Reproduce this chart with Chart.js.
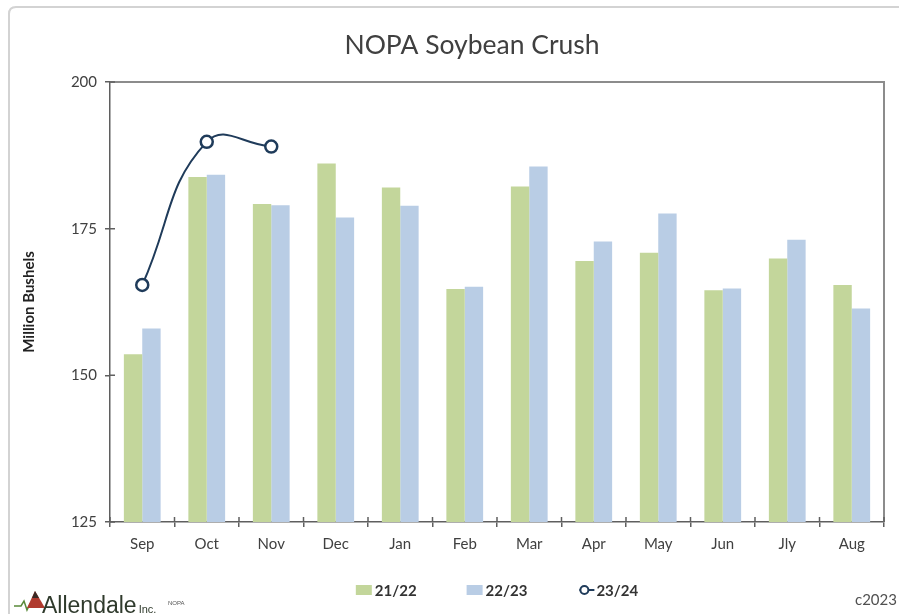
<!DOCTYPE html>
<html>
<head>
<meta charset="utf-8">
<script src="https://cdn.jsdelivr.net/npm/chart.js@4"></script>
<style>
  body { margin: 0; background: #fff; }
  #wrap { width: 899px; height: 614px; position: relative; }
</style>
</head>
<body>
<div id="wrap"><canvas id="chart1"></canvas></div>
<script>
const months = ['Sep', 'Oct', 'Nov', 'Dec', 'Jan', 'Feb', 'Mar', 'Apr', 'May', 'Jun', 'Jly', 'Aug'];
const crush2122 = [153.6, 183.8, 179.2, 186.1, 182.0, 164.7, 182.2, 169.5, 170.9, 164.5, 169.9, 165.4];
const crush2223 = [158.0, 184.2, 179.0, 176.9, 178.9, 165.1, 185.6, 172.8, 177.6, 164.8, 173.1, 161.4];
const crush2324 = [165.4, 189.8, 189.0];
const yTicks = [125, 150, 175, 200];

const FONT = 'Lato, "DejaVu Sans", sans-serif';
const greenCol = '#c3d69b';
const blueCol = '#b9cde5';
const lineCol = '#1f3b5a';
const axisCol = '#5f5f5f';

// frame, cross ticks, title, legend and footer
const decorations = {
  id: 'decorations',
  beforeDraw(chart) {
    const ctx = chart.ctx;
    ctx.save();
    ctx.strokeStyle = '#d3d3d3';
    ctx.lineWidth = 2;
    ctx.beginPath();
    ctx.moveTo(9, 640);
    ctx.lineTo(9, 14);
    ctx.quadraticCurveTo(9, 7, 16, 7);
    ctx.lineTo(905, 7);
    ctx.stroke();
    ctx.restore();
  },
  afterDraw(chart) {
    const ctx = chart.ctx;
    const a = chart.chartArea;
    const x = chart.scales.x;
    const y = chart.scales.y;
    ctx.save();

    // top and right edge of the plot box
    ctx.strokeStyle = '#8c8c8c';
    ctx.lineWidth = 2;
    ctx.beginPath();
    ctx.moveTo(a.left, a.top);
    ctx.lineTo(a.right, a.top);
    ctx.lineTo(a.right, a.bottom);
    ctx.stroke();

    // inner half of the cross tick marks
    ctx.strokeStyle = axisCol;
    ctx.lineWidth = 1.5;
    ctx.beginPath();
    yTicks.forEach(v => {
      const py = y.getPixelForValue(v);
      ctx.moveTo(a.left, py);
      ctx.lineTo(a.left + 5, py);
    });
    for (let i = 0; i <= months.length; i++) {
      const px = x.getPixelForValue(i - 0.5);
      ctx.moveTo(px, a.bottom);
      ctx.lineTo(px, a.bottom - 5);
    }
    ctx.stroke();

    // title
    ctx.fillStyle = '#404040';
    ctx.font = '26.5px ' + FONT;
    ctx.textAlign = 'center';
    ctx.textBaseline = 'middle';
    ctx.fillText('NOPA Soybean Crush', (a.left + a.right) / 2 - 25, 45);

    // legend
    const items = chart.data.datasets.map(ds => ({ text: ds.label, ds }));
    ctx.font = 'bold 15px ' + FONT;
    const iconW = 17, gap = 2, spacing = 50;
    let total = 0;
    items.forEach((it, i) => {
      it.w = ctx.measureText(it.text).width;
      total += iconW + gap + it.w + (i < items.length - 1 ? spacing : 0);
    });
    let cx = (a.left + a.right) / 2 - total / 2;
    const ly = 590;
    ctx.textAlign = 'left';
    items.forEach(it => {
      if (it.ds.type === 'line') {
        ctx.strokeStyle = lineCol;
        ctx.lineWidth = 2;
        ctx.beginPath();
        ctx.moveTo(cx + 2, ly);
        ctx.lineTo(cx + iconW, ly);
        ctx.stroke();
        ctx.beginPath();
        ctx.arc(cx + 7, ly, 4, 0, Math.PI * 2);
        ctx.fillStyle = '#fff';
        ctx.fill();
        ctx.stroke();
      } else {
        ctx.fillStyle = it.ds.backgroundColor;
        ctx.fillRect(cx, ly - 5, iconW - 1, 10);
      }
      ctx.fillStyle = '#333';
      ctx.fillText(it.text, cx + iconW + gap, ly + 1);
      cx += iconW + gap + it.w + spacing;
    });

    // footer: logo, source, copyright
    ctx.strokeStyle = '#5a8a3a';
    ctx.lineWidth = 1.5;
    ctx.beginPath();
    ctx.moveTo(14, 606);
    ctx.lineTo(21, 606);
    ctx.lineTo(24, 601);
    ctx.lineTo(27, 610);
    ctx.lineTo(30, 604);
    ctx.lineTo(34, 606);
    ctx.stroke();
    ctx.fillStyle = '#b03a2e';
    ctx.beginPath();
    ctx.moveTo(27, 608);
    ctx.lineTo(35, 591);
    ctx.lineTo(45, 608);
    ctx.closePath();
    ctx.fill();
    ctx.fillStyle = '#3a2a25';
    ctx.beginPath();
    ctx.moveTo(35, 591);
    ctx.lineTo(39, 598);
    ctx.lineTo(32, 598);
    ctx.closePath();
    ctx.fill();

    ctx.fillStyle = '#2f3a2c';
    ctx.textBaseline = 'alphabetic';
    ctx.font = '23px "Liberation Sans Narrow", "Liberation Sans", sans-serif';
    ctx.fillText('Allendale', 42, 613);
    const aw = ctx.measureText('Allendale').width;
    ctx.font = '11px "Liberation Sans", sans-serif';
    ctx.fillText('Inc.', 42 + aw + 2, 613);
    ctx.font = '6px "Liberation Sans", sans-serif';
    ctx.fillStyle = '#555';
    ctx.fillText('NOPA', 168, 605);

    ctx.font = '15px ' + FONT;
    ctx.fillStyle = '#505050';
    ctx.textBaseline = 'middle';
    ctx.fillText('c2023', 855, 600);
    ctx.restore();
  }
};

document.addEventListener('DOMContentLoaded', function () {
  const chartCanvas = document.getElementById('chart1');
  new Chart(chartCanvas.getContext('2d'), {
    type: 'bar',
    data: {
      labels: months,
      datasets: [
        {
          label: '21/22',
          data: crush2122,
          backgroundColor: greenCol,
          order: 1,
          barPercentage: 1,
          categoryPercentage: 0.57,
        },
        {
          label: '22/23',
          data: crush2223,
          backgroundColor: blueCol,
          order: 2,
          barPercentage: 1,
          categoryPercentage: 0.57,
        },
        {
          type: 'line',
          label: '23/24',
          data: crush2324,
          borderColor: lineCol,
          borderWidth: 2,
          tension: 0.45,
          pointRadius: 6,
          pointBorderWidth: 2.5,
          pointBackgroundColor: '#fff',
          pointBorderColor: lineCol,
          fill: false,
          order: 0,
          clip: false,
        }
      ]
    },
    options: {
      responsive: true,
      maintainAspectRatio: false,
      animation: false,
      layout: {
        padding: { left: 20, right: 15, top: 82, bottom: 52 }
      },
      plugins: {
        legend: { display: false },
        title: { display: false },
        tooltip: { enabled: false }
      },
      scales: {
        x: {
          afterFit(scale) { scale.height = 40; },
          grid: {
            offset: true,
            drawOnChartArea: false,
            tickLength: 5,
            color: axisCol,
            lineWidth: 1.5,
          },
          border: { display: true, color: axisCol, width: 1.5 },
          ticks: {
            padding: 8,
            color: '#404040',
            font: { family: FONT, size: 15 },
          },
        },
        y: {
          min: 125,
          max: 200,
          afterFit(scale) { scale.width = 90; },
          afterBuildTicks(scale) { scale.ticks = yTicks.map(v => ({ value: v })); },
          grid: {
            drawOnChartArea: false,
            tickLength: 5,
            color: axisCol,
            lineWidth: 1.5,
          },
          border: { display: true, color: axisCol, width: 1.5 },
          ticks: {
            padding: 8,
            color: '#404040',
            font: { family: FONT, size: 15 },
          },
          title: {
            display: true,
            text: 'Million Bushels',
            color: '#222',
            font: { family: FONT, size: 15, weight: 'bold' },
            padding: { top: 0, bottom: 0 },
          },
        },
      },
    },
    plugins: [decorations],
  });
});
</script>
</body>
</html>
